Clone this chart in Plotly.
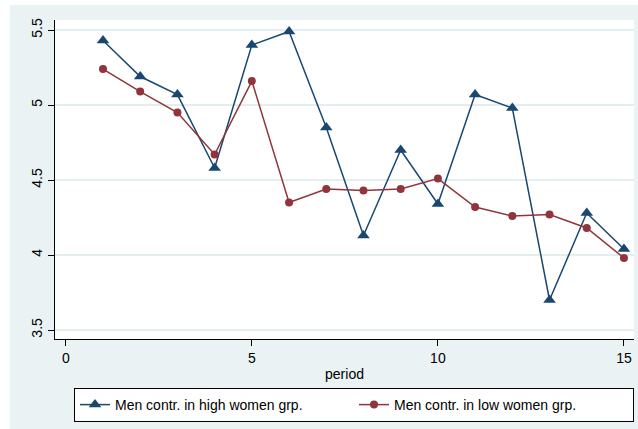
import plotly.graph_objects as go

period = list(range(1, 16))
high_women = [5.43, 5.19, 5.07, 4.58, 5.40, 5.49, 4.85, 4.13, 4.70, 4.34, 5.07, 4.98, 3.70, 4.28, 4.04]
low_women = [5.24, 5.09, 4.95, 4.67, 5.16, 4.35, 4.44, 4.43, 4.44, 4.51, 4.32, 4.26, 4.27, 4.18, 3.98]
x_ticks = [0, 5, 10, 15]
y_ticks = [3.5, 4, 4.5, 5, 5.5]

navy = "#1A476F"
maroon = "#90353B"
bg = "#EAF2F3"

fig = go.Figure()
fig.add_trace(go.Scatter(
    x=period, y=high_women, mode="lines+markers",
    name="Men contr. in high women grp.",
    line=dict(color=navy, width=1.5),
    marker=dict(symbol="triangle-up", size=11, color=navy),
))
fig.add_trace(go.Scatter(
    x=period, y=low_women, mode="lines+markers",
    name="Men contr. in low women grp.",
    line=dict(color=maroon, width=1.5),
    marker=dict(symbol="circle", size=8, color=maroon),
))

L, R, T, B = 55, 4, 20, 90
W, H = 638, 429
pw, ph = W - L - R, H - T - B

fig.update_layout(
    width=W, height=H,
    margin=dict(l=L, r=R, t=T, b=B, pad=0),
    paper_bgcolor=bg,
    plot_bgcolor="white",
    font=dict(family="Liberation Sans, Arial, sans-serif", size=14, color="black"),
    showlegend=True,
    legend=dict(
        orientation="h", x=(74 - L) / pw, xanchor="left", y=(H - B - 388) / ph, yanchor="top",
        bgcolor="white", bordercolor="black", borderwidth=1,
        font=dict(size=14), entrywidth=234, entrywidthmode="pixels",
    ),
    xaxis=dict(
        range=[-0.29, 15.27], tickvals=x_ticks, showgrid=False, zeroline=False,
        showline=True, linecolor="black", linewidth=1,
        ticks="outside", ticklen=6, tickcolor="black",
        title=dict(text="period", standoff=4, font=dict(size=14)),
    ),
    yaxis=dict(
        range=[3.44, 5.567], tickvals=y_ticks, ticktext=["3.5", "4", "4.5", "5", "5.5"],
        showgrid=True, gridcolor="#E4EDEF", gridwidth=1.5, zeroline=False,
        showline=True, linecolor="black", linewidth=1,
        ticks="outside", ticklen=6, tickcolor="black", tickangle=-90,
    ),
    shapes=[
        dict(type="rect", xref="paper", yref="paper",
             x0=-L / pw, x1=(10 - L) / pw, y0=-B / ph, y1=(H - B) / ph,
             fillcolor="white", line=dict(width=0), layer="below"),
        dict(type="rect", xref="paper", yref="paper",
             x0=-L / pw, x1=(W - L) / pw, y0=(H - B - 5) / ph, y1=(H - B) / ph,
             fillcolor="white", line=dict(width=0), layer="below"),
    ],
)

fig.write_html(
    "out.html",
    config={"displayModeBar": False},
    post_script="document.body.style.margin='0';document.body.style.padding='0';",
)
